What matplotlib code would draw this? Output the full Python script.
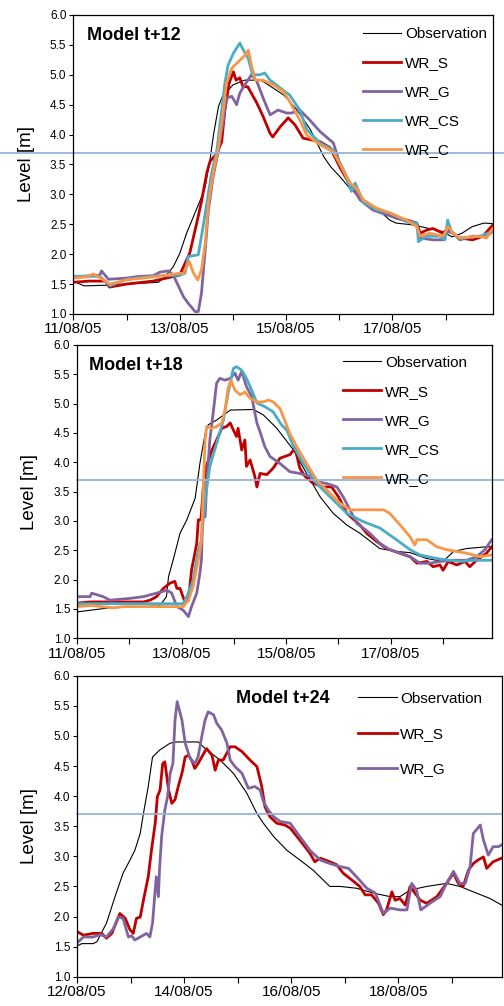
import matplotlib
matplotlib.use("Agg")
from matplotlib import pyplot as plt

plt.rcParams['font.family'] = ['Liberation Sans', 'DejaVu Sans']

# ---- Model t+12 (days since 11/08/05) ----
t12_obs = [0, 0.2, 0.6, 1.0, 1.6, 1.7, 1.88, 2.0, 2.13, 2.26, 2.39, 2.48, 2.57, 2.64, 2.73, 2.8, 3.0, 3.22, 3.53,
           3.72, 3.96, 4.21, 4.46, 4.71, 4.84, 5.01, 5.2, 5.45, 5.7, 5.95, 6.07, 6.38, 6.69, 6.94, 7.12, 7.31, 7.5,
           7.72, 7.9]
v12_obs = [1.55, 1.47, 1.48, 1.5, 1.53, 1.6, 1.79, 2.01, 2.35, 2.63, 2.91, 3.13, 3.58, 4.02, 4.47, 4.63, 4.83, 4.91,
           4.91, 4.8, 4.66, 4.41, 4.08, 3.63, 3.46, 3.3, 3.1, 2.91, 2.77, 2.57, 2.52, 2.49, 2.43, 2.38, 2.29, 2.35,
           2.46, 2.52, 2.51]

t12_s = [0, 0.3, 0.6, 0.68, 1.0, 1.5, 1.75, 2.0, 2.19, 2.32, 2.41, 2.51, 2.57, 2.70, 2.79, 2.85, 2.93, 3.01, 3.06,
         3.13, 3.19, 3.28, 3.45, 3.57, 3.70, 3.75, 3.89, 4.04, 4.17, 4.32, 4.48, 4.64, 4.83, 5.01, 5.20, 5.39, 5.63,
         5.82, 6.08, 6.27, 6.46, 6.52, 6.64, 6.76, 6.95, 7.04, 7.14, 7.27, 7.51, 7.70, 7.89]
v12_s = [1.53, 1.55, 1.55, 1.45, 1.50, 1.55, 1.60, 1.65, 2.02, 2.52, 2.88, 3.36, 3.55, 3.69, 3.88, 4.41, 4.86, 5.05,
         4.91, 4.95, 4.80, 4.80, 4.53, 4.30, 4.02, 3.96, 4.13, 4.28, 4.16, 3.94, 3.91, 3.88, 3.78, 3.46, 3.16, 2.94,
         2.79, 2.71, 2.60, 2.57, 2.52, 2.35, 2.40, 2.43, 2.35, 2.43, 2.35, 2.27, 2.24, 2.30, 2.49]

t12_g = [0, 0.5, 0.53, 0.66, 1.0, 1.25, 1.5, 1.63, 1.79, 1.88, 2.07, 2.16, 2.29, 2.35, 2.41, 2.48, 2.54, 2.63, 2.73,
         2.82, 2.88, 2.98, 3.07, 3.13, 3.20, 3.35, 3.45, 3.57, 3.70, 3.85, 4.01, 4.10, 4.26, 4.45, 4.64, 4.89, 5.01,
         5.20, 5.39, 5.63, 5.89, 6.20, 6.45, 6.52, 6.76, 6.95, 7.04, 7.14, 7.27, 7.51, 7.77, 7.89]
v12_g = [1.62, 1.65, 1.72, 1.58, 1.60, 1.63, 1.64, 1.70, 1.72, 1.65, 1.29, 1.18, 1.04, 1.04, 1.35, 2.07, 2.74, 3.30,
         3.74, 4.24, 4.61, 4.64, 4.50, 4.69, 4.80, 5.00, 4.89, 4.61, 4.33, 4.41, 4.36, 4.36, 4.41, 4.24, 4.05, 3.86,
         3.52, 3.19, 2.91, 2.74, 2.66, 2.57, 2.49, 2.27, 2.24, 2.24, 2.38, 2.35, 2.24, 2.30, 2.30, 2.38]

t12_cs = [0, 0.5, 0.69, 1.0, 1.5, 2.0, 2.1, 2.16, 2.35, 2.44, 2.54, 2.60, 2.70, 2.79, 2.85, 2.91, 3.01, 3.13, 3.20,
          3.29, 3.37, 3.51, 3.60, 3.70, 3.89, 4.07, 4.26, 4.39, 4.64, 4.89, 5.08, 5.23, 5.30, 5.45, 5.70, 5.95, 6.27,
          6.46, 6.49, 6.64, 6.89, 6.99, 7.04, 7.11, 7.27, 7.64, 7.89]
v12_cs = [1.63, 1.63, 1.47, 1.58, 1.63, 1.65, 1.68, 1.96, 1.99, 2.46, 3.02, 3.35, 3.74, 4.41, 4.86, 5.16, 5.36, 5.53,
          5.41, 5.27, 5.00, 5.00, 5.03, 4.91, 4.78, 4.66, 4.41, 4.08, 3.86, 3.74, 3.41, 3.05, 3.19, 2.88, 2.74, 2.69,
          2.55, 2.52, 2.21, 2.30, 2.30, 2.24, 2.57, 2.38, 2.27, 2.30, 2.38]

t12_c = [0, 0.25, 0.38, 0.69, 1.0, 1.5, 2.0, 2.07, 2.18, 2.26, 2.34, 2.41, 2.48, 2.54, 2.63, 2.73, 2.82, 2.88, 2.98,
         3.07, 3.20, 3.29, 3.35, 3.42, 3.57, 3.76, 3.95, 4.07, 4.26, 4.39, 4.64, 4.89, 5.04, 5.20, 5.33, 5.45, 5.70,
         5.95, 6.27, 6.46, 6.52, 6.70, 6.95, 7.05, 7.14, 7.27, 7.64, 7.77, 7.89]
v12_c = [1.60, 1.62, 1.67, 1.50, 1.57, 1.62, 1.68, 1.68, 1.88, 1.68, 1.57, 1.74, 2.18, 2.85, 3.35, 3.80, 4.41, 4.86,
         5.11, 5.19, 5.30, 5.41, 5.16, 4.91, 4.91, 4.83, 4.72, 4.55, 4.24, 3.99, 3.83, 3.71, 3.46, 3.19, 3.10, 2.91,
         2.77, 2.69, 2.57, 2.46, 2.30, 2.35, 2.30, 2.46, 2.35, 2.27, 2.30, 2.27, 2.43]

# ---- Model t+18 (days since 11/08/05) ----
t18_obs = [0, 0.63, 1.58, 1.71, 1.75, 1.84, 1.97, 2.10, 2.26, 2.35, 2.45, 2.51, 2.67, 2.93, 3.37, 3.56, 3.82, 4.14,
           4.39, 4.65, 4.90, 5.16, 5.41, 5.79, 6.11, 6.37, 6.69, 7.0, 7.2, 7.45, 7.83, 7.93]
v18_obs = [1.45, 1.52, 1.55, 1.71, 2.05, 2.34, 2.79, 3.02, 3.39, 3.98, 4.49, 4.64, 4.72, 4.89, 4.90, 4.81, 4.58,
           4.21, 3.81, 3.41, 3.13, 2.93, 2.79, 2.53, 2.48, 2.46, 2.36, 2.31, 2.48, 2.53, 2.56, 2.56]

t18_s = [0, 0.25, 1.27, 1.40, 1.52, 1.65, 1.78, 1.87, 1.91, 1.97, 2.07, 2.13, 2.19, 2.29, 2.32, 2.37, 2.42, 2.48,
         2.58, 2.67, 2.77, 2.86, 2.93, 2.99, 3.05, 3.08, 3.15, 3.21, 3.24, 3.31, 3.40, 3.44, 3.50, 3.63, 3.75, 3.88,
         4.07, 4.17, 4.26, 4.36, 4.52, 4.71, 4.87, 5.0, 5.16, 5.41, 5.54, 5.73, 5.92, 6.18, 6.37, 6.50, 6.69, 6.81,
         6.94, 7.0, 7.10, 7.26, 7.42, 7.51, 7.64, 7.83, 7.93]
v18_s = [1.60, 1.62, 1.62, 1.65, 1.71, 1.85, 1.94, 1.97, 1.85, 1.85, 1.60, 1.65, 2.16, 2.62, 3.02, 3.02, 3.64, 3.95,
         4.21, 4.38, 4.58, 4.61, 4.67, 4.55, 4.44, 4.58, 4.21, 4.38, 3.93, 4.04, 3.76, 3.58, 3.81, 3.79, 3.90, 4.07,
         4.13, 4.24, 3.90, 3.76, 3.64, 3.58, 3.58, 3.41, 3.13, 2.93, 2.79, 2.65, 2.53, 2.45, 2.39, 2.28, 2.31, 2.22,
         2.25, 2.16, 2.31, 2.25, 2.31, 2.22, 2.33, 2.45, 2.56]

t18_g = [0, 0.25, 0.28, 0.50, 0.63, 1.01, 1.27, 1.52, 1.72, 1.81, 1.91, 2.03, 2.13, 2.19, 2.29, 2.35, 2.38, 2.40,
         2.45, 2.48, 2.54, 2.61, 2.67, 2.73, 2.83, 2.93, 3.02, 3.08, 3.15, 3.24, 3.34, 3.44, 3.50, 3.59, 3.69, 3.88,
         4.07, 4.26, 4.46, 4.58, 4.77, 4.97, 5.09, 5.22, 5.35, 5.47, 5.60, 5.79, 5.98, 6.18, 6.37, 6.56, 6.75, 6.94,
         7.20, 7.45, 7.64, 7.80, 7.93]
v18_g = [1.71, 1.71, 1.77, 1.71, 1.65, 1.68, 1.71, 1.77, 1.82, 1.77, 1.54, 1.48, 1.37, 1.54, 1.77, 2.11, 2.34, 3.07,
         3.07, 3.64, 4.38, 4.89, 5.35, 5.43, 5.40, 5.43, 5.52, 5.40, 5.55, 5.29, 5.12, 4.67, 4.52, 4.27, 4.10, 3.98,
         3.84, 3.81, 3.76, 3.67, 3.64, 3.58, 3.41, 3.19, 2.96, 2.88, 2.79, 2.62, 2.51, 2.45, 2.39, 2.28, 2.28, 2.31,
         2.33, 2.33, 2.39, 2.51, 2.68]

t18_cs = [0, 2.03, 2.10, 2.22, 2.32, 2.38, 2.45, 2.54, 2.67, 2.80, 2.89, 2.99, 3.05, 3.15, 3.24, 3.34, 3.44, 3.59,
          3.75, 3.91, 4.01, 4.14, 4.33, 4.58, 4.84, 5.16, 5.47, 5.79, 6.11, 6.37, 6.56, 6.88, 7.13, 7.32, 7.58, 7.93]
v18_cs = [1.59, 1.59, 1.71, 1.99, 2.51, 2.68, 3.36, 3.93, 4.32, 4.72, 5.18, 5.60, 5.63, 5.57, 5.43, 5.23, 5.01, 4.95,
          4.86, 4.64, 4.55, 4.27, 3.98, 3.64, 3.41, 3.13, 2.99, 2.88, 2.68, 2.51, 2.42, 2.36, 2.33, 2.31, 2.33, 2.33]

t18_c = [0, 0.25, 0.69, 0.89, 2.03, 2.13, 2.22, 2.32, 2.38, 2.42, 2.45, 2.48, 2.58, 2.67, 2.77, 2.83, 2.89, 2.94,
         3.02, 3.12, 3.21, 3.31, 3.44, 3.56, 3.66, 3.75, 3.88, 4.07, 4.20, 4.39, 4.58, 4.84, 5.03, 5.22, 5.54, 5.86,
         5.98, 6.18, 6.37, 6.46, 6.50, 6.69, 6.88, 7.07, 7.26, 7.45, 7.71, 7.93]
v18_c = [1.54, 1.56, 1.52, 1.54, 1.54, 1.65, 1.88, 2.34, 2.68, 3.70, 4.38, 4.61, 4.58, 4.61, 4.67, 4.89, 5.26, 5.40,
         5.23, 5.15, 5.20, 5.09, 5.03, 5.03, 5.06, 5.03, 4.92, 4.49, 4.27, 3.98, 3.70, 3.47, 3.30, 3.19, 3.19, 3.19,
         3.13, 2.93, 2.73, 2.59, 2.68, 2.68, 2.56, 2.51, 2.48, 2.45, 2.39, 2.42]

# ---- Model t+24 (days since 12/08/05) ----
t24_obs = [0, 0.09, 0.3, 0.37, 0.55, 0.71, 0.86, 0.99, 1.08, 1.18, 1.24, 1.33, 1.41, 1.55, 1.74, 1.86, 2.26, 2.42,
           2.67, 2.92, 3.17, 3.36, 3.48, 3.67, 3.92, 4.16, 4.41, 4.72, 4.91, 5.22, 5.53, 5.85, 6.03, 6.22, 6.53,
           6.90, 7.15, 7.40, 7.71, 7.93]
v24_obs = [1.51, 1.55, 1.55, 1.58, 1.89, 2.33, 2.72, 2.94, 3.10, 3.38, 3.71, 4.16, 4.65, 4.77, 4.88, 4.90, 4.90,
           4.77, 4.60, 4.38, 4.05, 3.71, 3.55, 3.33, 3.10, 2.94, 2.77, 2.50, 2.50, 2.47, 2.39, 2.33, 2.33, 2.44, 2.50,
           2.55, 2.50, 2.41, 2.30, 2.19]

t24_s = [0, 0.12, 0.30, 0.46, 0.55, 0.65, 0.80, 0.90, 0.99, 1.05, 1.11, 1.18, 1.24, 1.33, 1.39, 1.46, 1.50, 1.55,
         1.60, 1.64, 1.71, 1.77, 1.83, 1.89, 1.96, 2.02, 2.08, 2.14, 2.20, 2.26, 2.33, 2.42, 2.52, 2.58, 2.64, 2.73,
         2.86, 2.95, 3.08, 3.23, 3.36, 3.45, 3.51, 3.60, 3.73, 3.88, 3.98, 4.16, 4.35, 4.44, 4.54, 4.72, 4.85, 4.97,
         5.10, 5.28, 5.38, 5.50, 5.63, 5.72, 5.78, 5.88, 5.94, 6.03, 6.13, 6.22, 6.31, 6.41, 6.53, 6.72, 6.90, 7.03,
         7.12, 7.21, 7.31, 7.40, 7.49, 7.59, 7.65, 7.77, 7.93]
v24_s = [1.75, 1.69, 1.72, 1.72, 1.64, 1.72, 2.05, 1.97, 1.78, 1.72, 1.97, 1.99, 2.27, 2.66, 3.10, 3.55, 3.99, 4.10,
         4.54, 4.57, 4.10, 3.88, 3.94, 4.16, 4.38, 4.65, 4.68, 4.60, 4.46, 4.54, 4.65, 4.79, 4.68, 4.43, 4.60, 4.60,
         4.82, 4.82, 4.74, 4.60, 4.49, 4.16, 3.82, 3.66, 3.55, 3.52, 3.47, 3.27, 3.05, 2.91, 2.97, 2.91, 2.86, 2.72,
         2.63, 2.50, 2.36, 2.36, 2.22, 2.03, 2.11, 2.41, 2.27, 2.30, 2.19, 2.50, 2.39, 2.27, 2.22, 2.33, 2.55, 2.72,
         2.55, 2.50, 2.77, 2.88, 2.94, 2.99, 2.80, 2.91, 2.97]

t24_g = [0, 0.12, 0.30, 0.43, 0.55, 0.68, 0.77, 0.86, 0.96, 1.02, 1.08, 1.18, 1.30, 1.36, 1.41, 1.48, 1.52, 1.54,
         1.58, 1.64, 1.69, 1.74, 1.79, 1.83, 1.87, 1.96, 2.02, 2.11, 2.20, 2.26, 2.33, 2.39, 2.45, 2.55, 2.61, 2.70,
         2.80, 2.86, 2.95, 3.08, 3.20, 3.32, 3.42, 3.48, 3.57, 3.67, 3.79, 3.98, 4.16, 4.35, 4.54, 4.72, 4.91, 5.07,
         5.22, 5.41, 5.57, 5.66, 5.72, 5.85, 6.03, 6.16, 6.25, 6.34, 6.42, 6.59, 6.78, 6.90, 7.03, 7.15, 7.25, 7.34,
         7.40, 7.53, 7.59, 7.68, 7.77, 7.87, 7.93]
v24_g = [1.56, 1.66, 1.66, 1.70, 1.66, 1.80, 1.99, 1.97, 1.66, 1.68, 1.61, 1.66, 1.72, 1.66, 1.89, 2.66, 2.33, 2.77,
         3.33, 3.77, 3.99, 4.38, 4.54, 5.26, 5.57, 5.26, 4.88, 4.63, 4.54, 4.65, 4.99, 5.26, 5.40, 5.35, 5.21, 5.10,
         4.88, 4.60, 4.49, 4.38, 4.13, 4.16, 4.10, 3.91, 3.77, 3.66, 3.58, 3.55, 3.33, 3.10, 2.94, 2.88, 2.83, 2.80,
         2.66, 2.47, 2.39, 2.19, 2.05, 2.14, 2.11, 2.11, 2.55, 2.44, 2.11, 2.22, 2.33, 2.55, 2.75, 2.55, 2.55, 2.83,
         3.38, 3.52, 3.27, 3.02, 3.16, 3.16, 3.19]

xlabels_a = ['11/08/05', '', '13/08/05', '', '15/08/05', '', '17/08/05', '']
xlabels_b = ['12/08/05', '', '14/08/05', '', '16/08/05', '', '18/08/05', '']
yticks = [1.0, 1.5, 2.0, 2.5, 3.0, 3.5, 4.0, 4.5, 5.0, 5.5, 6.0]
alarm = 3.7

red = '#C00000'
purple = '#8064A2'
teal = '#4BACC6'
orange = '#F79646'
lightblue = '#95B3D7'

fig = plt.figure(figsize=(5.04, 10.06), dpi=100)


def setup(ax, xmax, labels, title, tx, ty):
    ax.set_xlim(0, xmax)
    ax.set_ylim(1.0, 6.0)
    ax.set_xticks(range(len(labels)))
    ax.set_xticklabels(labels, fontsize=11)
    ax.set_yticks(yticks)
    ax.set_yticklabels(['%.1f' % y for y in yticks], fontsize=8.5)
    ax.tick_params(axis='x', direction='out', length=4, width=0.8, pad=2)
    ax.tick_params(axis='y', direction='out', length=3, width=0.8, pad=2)
    for s in ax.spines.values():
        s.set_linewidth(0.9)
    ax.set_ylabel("Level [m]", fontsize=13.5, labelpad=11)
    ax.text(tx, ty, title, transform=ax.transAxes, fontsize=13, fontweight='bold', va='center')


leg_kw = dict(loc='upper right', frameon=False, fontsize=11, handlelength=2.5, handletextpad=0.25)

# Model t+12
ax1 = fig.add_axes([0.1455, 0.6879, 0.8335, 0.2972])
ax1.plot(t12_obs, v12_obs, color='black', lw=0.8, label='Observation')
ax1.plot(t12_s, v12_s, color=red, lw=2, label='WR_S')
ax1.plot(t12_g, v12_g, color=purple, lw=2, label='WR_G')
ax1.plot(t12_cs, v12_cs, color=teal, lw=2, label='WR_CS')
ax1.plot(t12_c, v12_c, color=orange, lw=2, label='WR_C')
ax1.axhline(alarm, xmin=-0.175, xmax=1.03, color=lightblue, lw=1.3, clip_on=False)
setup(ax1, 7.9, xlabels_a, "Model t+12", 0.033, 0.93)
ax1.legend(bbox_to_anchor=(1.017, 1.005), labelspacing=0.98, **leg_kw)

# Model t+18
ax2 = fig.add_axes([0.1528, 0.3655, 0.8228, 0.2916])
ax2.plot(t18_obs, v18_obs, color='black', lw=0.8, label='Observation')
ax2.plot(t18_s, v18_s, color=red, lw=2, label='WR_S')
ax2.plot(t18_g, v18_g, color=purple, lw=2, label='WR_G')
ax2.plot(t18_cs, v18_cs, color=teal, lw=2, label='WR_CS')
ax2.plot(t18_c, v18_c, color=orange, lw=2, label='WR_C')
ax2.axhline(alarm, xmin=0, xmax=1.03, color=lightblue, lw=1.3, clip_on=False)
setup(ax2, 7.93, xlabels_a, "Model t+18", 0.03, 0.93)
ax2.legend(bbox_to_anchor=(0.974, 1.01), labelspacing=0.98, **leg_kw)

# Model t+24
ax3 = fig.add_axes([0.1528, 0.0291, 0.8426, 0.2992])
ax3.plot(t24_obs, v24_obs, color='black', lw=0.8, label='Observation')
ax3.plot(t24_s, v24_s, color=red, lw=2, label='WR_S')
ax3.plot(t24_g, v24_g, color=purple, lw=2, label='WR_G')
ax3.axhline(alarm, xmin=0, xmax=1.0, color=lightblue, lw=1.3, clip_on=False)
setup(ax3, 7.93, xlabels_b, "Model t+24", 0.375, 0.925)
ax3.legend(bbox_to_anchor=(0.987, 0.993), labelspacing=1.4, **leg_kw)

fig.savefig("out.png", dpi=100)
